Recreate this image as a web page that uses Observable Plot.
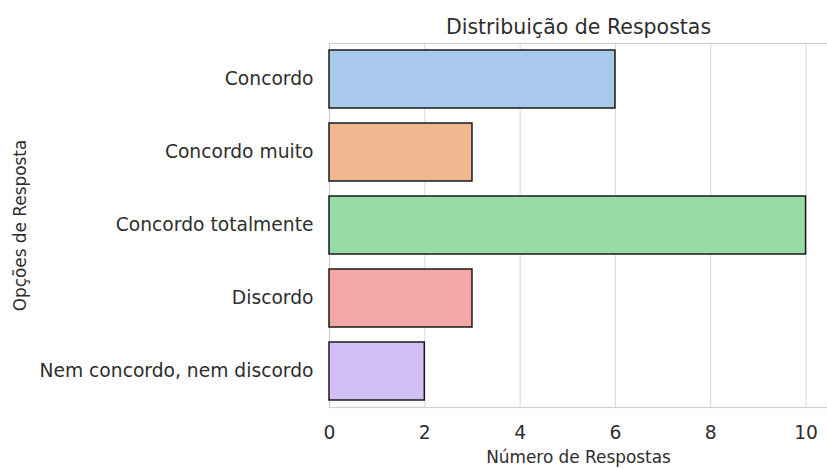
<!DOCTYPE html>
<html><head><meta charset="utf-8">
<script src="https://cdn.jsdelivr.net/npm/d3@7"></script>
<script src="https://cdn.jsdelivr.net/npm/@observablehq/plot@0.6"></script>
<style>body{margin:0;background:#fff;} svg{display:block;}</style>
</head><body><div id="chart"></div>
<script>
const categories = ["Concordo", "Concordo muito", "Concordo totalmente", "Discordo", "Nem concordo, nem discordo"];
const counts = [6, 3, 10, 3, 2];
const colors = ["#a9c9ec", "#f1b890", "#97dca6", "#f4a8a6", "#d0c0f5"];
const xTicks = [0, 2, 4, 6, 8, 10];
const title = "Distribuição de Respostas";
const xLabel = "Número de Respostas";
const yLabel = "Opções de Resposta";

const data = categories.map((c, i) => ({cat: c, n: counts[i]}));
const font = "DejaVu Sans, sans-serif";
const ink = "#2e2e2e";

const chart = Plot.plot({
  width: 827, height: 469,
  marginTop: 43, marginBottom: 62, marginLeft: 329, marginRight: 0,
  style: {fontFamily: font, color: ink, background: "#fff"},
  x: {domain: [0, 10.45]},
  y: {domain: categories, paddingInner: 0.2, paddingOuter: 0.08},
  color: {domain: categories, range: colors},
  marks: [
    Plot.gridX(xTicks, {stroke: "#dddddd", strokeOpacity: 1, strokeWidth: 1.2}),
    Plot.frame({stroke: "#d0d0d0", strokeWidth: 1.2}),
    Plot.barX(data, {y: "cat", x: "n", fill: "cat", stroke: "#1a1a1a", strokeWidth: 1.5}),
    Plot.axisX(xTicks, {tickSize: 0, tickPadding: 18, fill: ink, fontSize: 18.7,
      label: null}),
    Plot.axisY({tickSize: 0, tickPadding: 16, fill: ink, fontSize: 18.7, label: null}),
    Plot.text([xLabel], {frameAnchor: "bottom", lineAnchor: "middle", textAnchor: "middle", dy: 50, fill: ink, fontSize: 16.9}),
    Plot.text([yLabel], {frameAnchor: "left", lineAnchor: "middle", textAnchor: "middle", dx: -309, rotate: -90, fill: ink, fontSize: 16.9}),
    Plot.text([title], {frameAnchor: "top", lineAnchor: "middle", textAnchor: "middle", dy: -16, fill: ink, fontSize: 20.5})
  ]
});
document.getElementById("chart").appendChild(chart);
</script>
</body></html>
